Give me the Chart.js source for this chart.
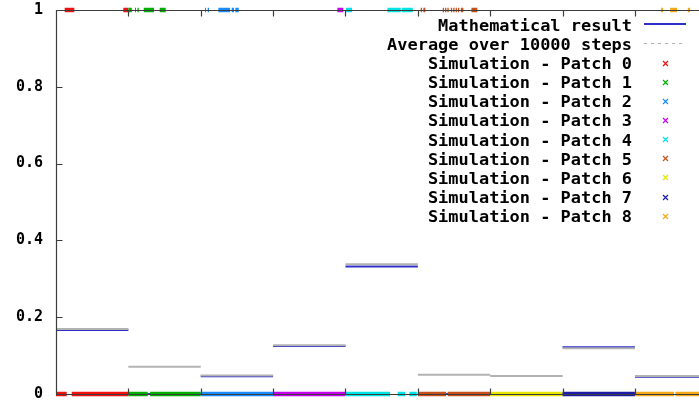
<!DOCTYPE html>
<html>
<head>
<meta charset="utf-8">
<title>Patch occupancy: mathematical result vs simulation</title>
<script src="https://cdn.jsdelivr.net/npm/chart.js@4/dist/chart.umd.min.js"></script>
<style>
  html, body { margin: 0; padding: 0; background: #ffffff; }
  canvas { display: block; }
</style>
</head>
<body>
<canvas id="chart" width="699" height="403"></canvas>
<script>
// Each patch occupies 10000 simulation steps on the x axis.
const STEPS_PER_PATCH = 10000;
const VISIBLE_END = 88850;

const patchNames = [
  'Simulation - Patch 0', 'Simulation - Patch 1', 'Simulation - Patch 2',
  'Simulation - Patch 3', 'Simulation - Patch 4', 'Simulation - Patch 5',
  'Simulation - Patch 6', 'Simulation - Patch 7', 'Simulation - Patch 8'
];
const patchColors = [
  '#f01010', '#00b000', '#1a8cff', '#c400ec', '#00e4e4',
  '#c8501a', '#e6e600', '#1c1ca8', '#f4a818'
];
const yTickLabels = ['0', '0.2', '0.4', '0.6', '0.8', '1'];

// Expected occupancy per patch and the running average of the simulation.
const mathematicalResult = [0.1667, 0, 0.046, 0.125, 0.332, 0, 0, 0.122, 0.045];
const averageOverSteps   = [0.169, 0.071, 0.048, 0.127, 0.338, 0.050, 0.047, 0.119, 0.047];

// Simulated state of each patch over time: step ranges spent empty (0) and occupied (1).
const emptyRuns0 = [[0, 1480], [2170, 10000]];
const fullRuns0  = [[1200, 2530], [9300, 10000]];
const emptyRuns1 = [[10000, 12670], [13000, 20000]];
const fullRuns1  = [[10000, 10470], [10920, 11060], [11260, 11440], [12120, 13540], [14330, 15160]];
const emptyRuns2 = [[20000, 30000]];
const fullRuns2  = [[20590, 20730], [20960, 21150], [22430, 24050], [24280, 24600], [24780, 25250]];
const emptyRuns3 = [[30000, 40000]];
const fullRuns3  = [[38880, 39700]];
const emptyRuns4 = [[40000, 46160], [47220, 48230], [48830, 49850]];
const fullRuns4  = [[40080, 40910], [45790, 47640], [47820, 49300]];
const emptyRuns5 = [[50000, 53900], [54130, 60000]];
const fullRuns5  = [[50400, 50580], [50760, 51040], [53440, 53620], [53760, 53940], [54080, 54260],
                    [54560, 54740], [54890, 55070], [55220, 55400], [55540, 55720], [55950, 56290],
                    [57400, 58220]];
const emptyRuns6 = [[60000, 70000]];
const fullRuns6  = [];
const emptyRuns7 = [[70000, 80000]];
const fullRuns7  = [];
const emptyRuns8 = [[80000, 85410], [85590, 90000]];
const fullRuns8  = [[83610, 83890], [84860, 85820], [87300, 87620]];

const emptyRuns = [emptyRuns0, emptyRuns1, emptyRuns2, emptyRuns3, emptyRuns4, emptyRuns5, emptyRuns6, emptyRuns7, emptyRuns8];
const fullRuns  = [fullRuns0, fullRuns1, fullRuns2, fullRuns3, fullRuns4, fullRuns5, fullRuns6, fullRuns7, fullRuns8];

// Turn [start, end] runs at a given level into line points separated by gaps.
function runsToPoints(runs, level) {
  const pts = [];
  runs.forEach(([a, b]) => {
    pts.push({ x: a, y: level }, { x: b, y: level }, { x: b, y: null });
  });
  return pts;
}

// One flat segment across every patch.
function perPatchLevels(values) {
  const pts = [];
  values.forEach((v, i) => {
    const a = i * STEPS_PER_PATCH, b = (i + 1) * STEPS_PER_PATCH;
    pts.push({ x: a, y: v }, { x: b, y: v }, { x: b, y: null });
  });
  return pts;
}

const datasets = [
  {
    label: 'Mathematical result',
    data: perPatchLevels(mathematicalResult),
    borderColor: '#2e2ec8',
    borderWidth: 2,
    keySample: 'line',
    order: 20
  },
  {
    label: 'Average over 10000 steps',
    data: perPatchLevels(averageOverSteps),
    borderColor: '#b2b2b2',
    borderWidth: 2,
    keySample: 'dash',
    order: 19
  }
];
patchNames.forEach((name, i) => {
  datasets.push({
    label: name,
    data: runsToPoints(emptyRuns[i], 0).concat(runsToPoints(fullRuns[i], 1)),
    borderColor: patchColors[i],
    borderWidth: 4.5,
    borderCapStyle: 'butt',
    pointStyle: 'crossRot',
    keySample: 'cross',
    clip: false,
    order: 10 - i
  });
});

// Plot frame with inward tick marks, drawn over the data.
const framePlugin = {
  id: 'frame',
  afterDatasetsDraw(chart) {
    const { ctx, chartArea, scales } = chart;
    const { left, top, right, bottom } = chartArea;
    const xs = scales.x, ys = scales.y;
    ctx.save();
    ctx.strokeStyle = '#3c3c3c';
    ctx.lineWidth = 1.2;
    ctx.beginPath();
    const L = Math.round(left) + 0.5, T = Math.round(top) + 0.5, B = Math.round(bottom) + 0.5;
    ctx.moveTo(right + 2, T);
    ctx.lineTo(L, T);
    ctx.lineTo(L, B);
    ctx.lineTo(right + 2, B);
    ys.ticks.forEach(t => {
      if (t.value <= 0 || t.value >= 1) return;
      const py = Math.round(ys.getPixelForValue(t.value)) + 0.5;
      ctx.moveTo(L, py);
      ctx.lineTo(L + 6, py);
    });
    for (let i = 1; i * STEPS_PER_PATCH < xs.max; i++) {
      const px = Math.round(xs.getPixelForValue(i * STEPS_PER_PATCH)) + 0.5;
      ctx.moveTo(px, T);
      ctx.lineTo(px, T + 6);
      ctx.moveTo(px, B);
      ctx.lineTo(px, B - 6);
    }
    ctx.stroke();
    ctx.restore();
  }
};

// Key in the upper right: right-aligned labels with the sample to their right.
const keyPlugin = {
  id: 'key',
  afterDraw(chart) {
    const ctx = chart.ctx;
    const textRight = 632, firstBaseline = 30.7, rowStep = 19.15;
    const sampleLeft = 644, sampleRight = 686, markX = 665.5;
    ctx.save();
    ctx.font = 'bold 15px "DejaVu Sans Mono"';
    ctx.textAlign = 'right';
    ctx.textBaseline = 'alphabetic';
    chart.data.datasets.forEach((ds, i) => {
      const base = firstBaseline + i * rowStep;
      ctx.save();
      ctx.translate(textRight, base);
      ctx.scale(1.13, 1);
      ctx.fillStyle = '#000000';
      ctx.fillText(ds.label, 0, 0);
      ctx.restore();

      const cy = Math.round(base - 6.5) + 0.5;
      ctx.save();
      ctx.strokeStyle = ds.borderColor;
      if (ds.keySample === 'line') {
        ctx.lineWidth = 2;
        ctx.beginPath();
        ctx.moveTo(sampleLeft, cy - 0.5);
        ctx.lineTo(sampleRight, cy - 0.5);
        ctx.stroke();
      } else if (ds.keySample === 'dash') {
        ctx.lineWidth = 1.2;
        ctx.setLineDash([3, 4]);
        ctx.beginPath();
        ctx.moveTo(sampleLeft, cy);
        ctx.lineTo(sampleRight, cy);
        ctx.stroke();
      } else {
        ctx.lineWidth = 1.2;
        ctx.beginPath();
        ctx.moveTo(markX - 2.5, cy - 2.5);
        ctx.lineTo(markX + 2.5, cy + 2.5);
        ctx.moveTo(markX - 2.5, cy + 2.5);
        ctx.lineTo(markX + 2.5, cy - 2.5);
        ctx.stroke();
      }
      ctx.restore();
    });
    ctx.restore();
  }
};

new Chart(document.getElementById('chart'), {
  type: 'line',
  data: { datasets },
  options: {
    responsive: false,
    animation: false,
    spanGaps: false,
    layout: { padding: 0 },
    elements: {
      point: { radius: 0, hoverRadius: 0 },
      line: { tension: 0, fill: false }
    },
    plugins: {
      legend: { display: false },
      tooltip: { enabled: false }
    },
    scales: {
      x: {
        type: 'linear',
        min: 0,
        max: VISIBLE_END,
        display: false
      },
      y: {
        min: 0,
        max: 1,
        ticks: {
          stepSize: 0.2,
          color: '#000000',
          padding: 13,
          font: { family: '"DejaVu Sans Mono"', weight: 'bold', size: 15 },
          callback: (value, index) => yTickLabels[index]
        },
        grid: { display: false, drawTicks: false },
        border: { display: false },
        afterFit(scale) {
          scale.width = 56;
          scale.paddingTop = 10;
          scale.paddingBottom = 9;
        }
      }
    }
  },
  plugins: [framePlugin, keyPlugin]
});
</script>
</body>
</html>
